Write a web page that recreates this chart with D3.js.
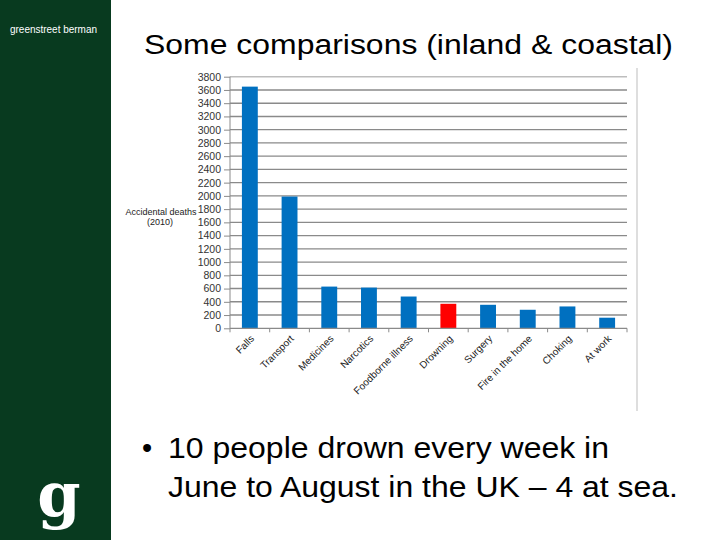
<!DOCTYPE html>
<html><head><meta charset="utf-8">
<script src="https://cdn.jsdelivr.net/npm/d3@7"></script>
<style>body{margin:0;background:#fff}svg{display:block}</style>
</head><body>
<script>
const categories = ["Falls","Transport","Medicines","Narcotics","Foodborne illness","Drowning","Surgery","Fire in the home","Choking","At work"];
const deaths = [3650,1990,630,615,480,370,355,280,330,160];
const highlight = ["Drowning"];
const yTicks = [0,200,400,600,800,1000,1200,1400,1600,1800,2000,2200,2400,2600,2800,3000,3200,3400,3600,3800];
const titleText = "Some comparisons (inland & coastal)";
const bulletLines = ["10 people drown every week in","June to August in the UK \u2013 4 at sea."];

const W=720,H=540;
const F="Liberation Sans, Arial";
const svg=d3.select("body").append("svg").attr("width",W).attr("height",H);
// left panel
svg.append("rect").attr("x",0).attr("y",0).attr("width",111).attr("height",H).attr("fill","#083a1f");
svg.append("text").attr("x",10).attr("y",33).attr("fill","#fff").attr("font-family",F).attr("font-size",10).attr("textLength",87).attr("lengthAdjust","spacingAndGlyphs").text("greenstreet berman");
svg.append("text").attr("x",59).attr("y",516).attr("text-anchor","middle").attr("fill","#fff").attr("font-family","DejaVu Serif").attr("font-weight","bold").attr("font-size",62).text("g");

// title
svg.append("text").attr("x",144).attr("y",54).attr("font-family",F).attr("font-size",27).attr("fill","#000")
 .attr("textLength",529).attr("lengthAdjust","spacingAndGlyphs").text(titleText);

// chart
const x0=230,x1=627,yTop=76.7,yBot=328.3;
const x=d3.scaleBand().domain(categories).range([x0,x1]).paddingInner(0.6).paddingOuter(0.3);
const xb=d3.scaleBand().domain(categories).range([x0,x1]);
const y=d3.scaleLinear().domain([0,3800]).range([yBot,yTop]);

// right border
svg.append("line").attr("x1",637).attr("x2",637).attr("y1",68).attr("y2",411).attr("stroke","#c8c8c8").attr("stroke-width",1.2);

// gridlines
svg.append("g").selectAll("line").data(yTicks.filter(d=>d>0)).join("line")
 .attr("x1",x0).attr("x2",x1).attr("y1",d=>y(d)).attr("y2",d=>y(d))
 .attr("stroke",d=>d===3800?"#bdbdbd":"#8a8a8a").attr("stroke-width",1.4);

// bars
svg.append("g").selectAll("rect").data(categories).join("rect")
 .attr("x",d=>x(d)).attr("width",x.bandwidth())
 .attr("y",(d,i)=>y(deaths[i])).attr("height",(d,i)=>yBot-y(deaths[i]))
 .attr("fill",d=>highlight.includes(d)?"#ff0000":"#0070c0");

// y axis
const ya=svg.append("g").attr("transform",`translate(${x0},0)`)
 .call(d3.axisLeft(y).tickValues(yTicks).tickSize(6).tickPadding(3).tickFormat(d3.format("d")));
ya.select(".domain").attr("stroke","#8a8a8a").attr("d",`M0,${yTop}V${yBot}`);
ya.selectAll(".tick line").attr("stroke","#8a8a8a");
ya.selectAll("text").attr("font-family",F).attr("font-size",10.5).attr("fill","#333");

// x axis
const xa=svg.append("g").attr("transform",`translate(0,${yBot})`);
xa.append("line").attr("x1",x0).attr("x2",x1).attr("stroke","#8a8a8a").attr("stroke-width",1.2);
xa.selectAll(".tk").data(categories.concat(["__end"])).join("line")
 .attr("x1",(d,i)=>x0+i*xb.bandwidth()).attr("x2",(d,i)=>x0+i*xb.bandwidth())
 .attr("y1",0).attr("y2",4).attr("stroke","#8a8a8a");
xa.selectAll("text").data(categories).join("text")
 .attr("transform",d=>`translate(${xb(d)+xb.bandwidth()/2+5},${11}) rotate(-45)`)
 .attr("text-anchor","end").attr("font-family",F).attr("font-size",10).attr("fill","#222").text(d=>d);

// y title
svg.append("text").attr("x",161).attr("y",215).attr("text-anchor","middle").attr("font-family",F).attr("font-size",9).attr("fill","#222").text("Accidental deaths");
svg.append("text").attr("x",160).attr("y",225).attr("text-anchor","middle").attr("font-family",F).attr("font-size",9).attr("fill","#222").text("(2010)");

// bullet
svg.append("text").attr("x",142).attr("y",458).attr("font-family",F).attr("font-size",29).text("\u2022");
svg.append("text").attr("x",168).attr("y",458).attr("font-family",F).attr("font-size",29)
 .attr("textLength",441).attr("lengthAdjust","spacingAndGlyphs").text(bulletLines[0]);
svg.append("text").attr("x",168).attr("y",497).attr("font-family",F).attr("font-size",29)
 .attr("textLength",510).attr("lengthAdjust","spacingAndGlyphs").text(bulletLines[1]);
</script>
</body></html>
